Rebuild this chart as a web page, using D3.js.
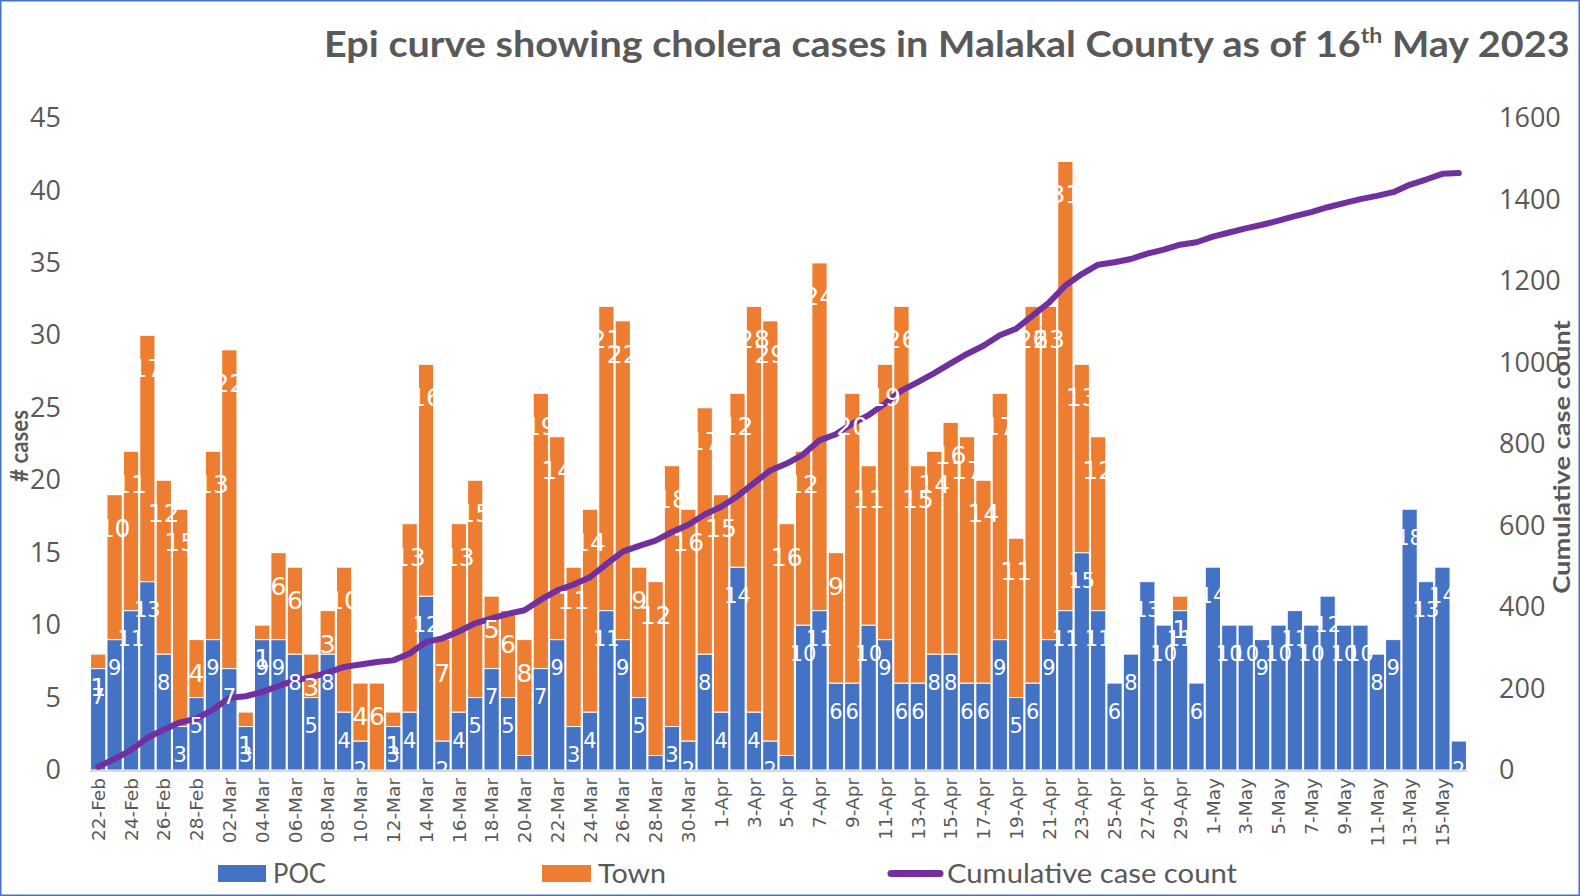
<!DOCTYPE html>
<html><head><meta charset="utf-8">
<script src="https://cdn.jsdelivr.net/npm/d3@7"></script>
<style>body{margin:0;background:#fff}svg{display:block}</style>
</head><body>
<svg id="chart" width="1580" height="896"></svg>
<script>
const dates = ["22-Feb","23-Feb","24-Feb","25-Feb","26-Feb","27-Feb","28-Feb",
"01-Mar","02-Mar","03-Mar","04-Mar","05-Mar","06-Mar","07-Mar","08-Mar","09-Mar","10-Mar","11-Mar","12-Mar","13-Mar","14-Mar","15-Mar","16-Mar","17-Mar","18-Mar","19-Mar","20-Mar","21-Mar","22-Mar","23-Mar","24-Mar","25-Mar","26-Mar","27-Mar","28-Mar","29-Mar","30-Mar","31-Mar",
"1-Apr","2-Apr","3-Apr","4-Apr","5-Apr","6-Apr","7-Apr","8-Apr","9-Apr","10-Apr","11-Apr","12-Apr","13-Apr","14-Apr","15-Apr","16-Apr","17-Apr","18-Apr","19-Apr","20-Apr","21-Apr","22-Apr","23-Apr","24-Apr","25-Apr","26-Apr","27-Apr","28-Apr","29-Apr","30-Apr",
"1-May","2-May","3-May","4-May","5-May","6-May","7-May","8-May","9-May","10-May","11-May","12-May","13-May","14-May","15-May","16-May"];
const poc = [7,9,11,13,8,3,5,9,7,3,9,9,8,5,8,4,2,0,3,4,12,2,4,5,7,5,1,7,9,3,4,11,9,5,1,3,2,8,4,14,4,2,1,10,11,6,6,10,9,6,6,8,8,6,6,9,5,6,9,11,15,11,6,8,13,10,11,6,14,10,10,9,10,11,10,12,10,10,8,9,18,13,14,2];
const town = [1,10,11,17,12,15,4,13,22,1,1,6,6,3,3,10,4,6,1,13,16,7,13,15,5,6,8,19,14,11,14,21,22,9,12,18,16,17,15,12,28,29,16,12,24,9,20,11,19,26,15,14,16,17,14,17,11,26,23,31,13,12,0,0,0,0,1,0,0,0,0,0,0,0,0,0,0,0,0,0,0,0,0,0];
const cumulative = [8,27,49,79,99,117,126,148,177,181,191,206,220,228,239,253,259,265,269,286,314,323,340,360,372,383,392,418,441,455,473,505,536,550,563,584,602,627,646,672,704,735,752,774,809,824,850,871,899,931,952,974,998,1021,1041,1067,1083,1115,1147,1189,1217,1240,1246,1254,1267,1277,1289,1295,1309,1319,1329,1338,1348,1359,1369,1381,1391,1401,1409,1418,1436,1449,1463,1465];
const leftTicks = [0,5,10,15,20,25,30,35,40,45];
const rightTicks = [0,200,400,600,800,1000,1200,1400,1600];
const xTickLabels = dates.filter((d,i)=>i%2===0);
const seriesNames = ["POC","Town","Cumulative case count"];
const titleParts = ["Epi curve showing cholera cases in Malakal County as of 16","th"," May 2023"];

const colors = {POC:"#4472C4", Town:"#ED7D31", line:"#7030A0", text:"#595959"};
const svg = d3.select("#chart");
const L=90, R=1467, T=118, B=770;

function fitWidth(sel, w){
  const bw = sel.node().getBBox().width;
  const x = +sel.attr("data-x"), y = +sel.attr("data-y");
  sel.attr("transform", `translate(${x},${y}) scale(${w/bw},1)`);
}

// border
svg.append("rect").attr("x",0.75).attr("y",0.75).attr("width",1578.5).attr("height",894.5)
  .attr("fill","none").attr("stroke","#4472C4").attr("stroke-width",1.5);

const table = dates.map((d,i)=>({date:d, POC:poc[i], Town:town[i]}));
const stack = d3.stack().keys(["POC","Town"])(table);

const x = d3.scaleBand().domain(dates).range([L,R]).paddingInner(0.07).paddingOuter(0.035);
const yL = d3.scaleLinear().domain([0,45]).range([B,T]);
const yR = d3.scaleLinear().domain([0,1600]).range([B,T]);

// bars
const gBars = svg.append("g");
stack.forEach(s=>{
  gBars.append("g").selectAll("rect").data(s.filter(d=>d[1]-d[0]>0)).join("rect")
    .attr("x",d=>x(d.data.date)).attr("width",x.bandwidth())
    .attr("y",d=>yL(d[1])).attr("height",d=>yL(d[0])-yL(d[1]))
    .attr("fill",colors[s.key]).attr("stroke","#fff").attr("stroke-width",1);
});

// baseline
svg.append("line").attr("x1",L).attr("x2",R).attr("y1",B+1).attr("y2",B+1)
  .attr("stroke","#D9D9D9").attr("stroke-width",2);

// axes
const axL = svg.append("g").attr("transform",`translate(${L},0)`)
  .call(d3.axisLeft(yL).tickValues(leftTicks).tickSize(0).tickPadding(29));
const axR = svg.append("g").attr("transform",`translate(${R},0)`)
  .call(d3.axisRight(yR).tickValues(rightTicks).tickFormat(d3.format("d")).tickSize(0).tickPadding(32));
[axL,axR].forEach(a=>{
  a.select(".domain").remove();
  a.selectAll("text").attr("font-family","Open Sans").attr("font-size",27).attr("fill",colors.text);
});
const axX = svg.append("g").attr("transform",`translate(0,${B})`)
  .call(d3.axisBottom(x).tickValues(xTickLabels).tickSize(0));
axX.select(".domain").remove();
axX.selectAll("text").attr("transform","rotate(-90)").attr("x",-8).attr("y",0).attr("dy","0.36em")
  .attr("text-anchor","end").attr("font-family","DejaVu Sans").attr("font-size",18.5).attr("fill",colors.text);

// line
const line = d3.line().x((d,i)=>x(dates[i])+x.bandwidth()/2).y(d=>yR(d));
svg.append("path").datum(cumulative).attr("d",line).attr("fill","none")
  .attr("stroke",colors.line).attr("stroke-width",6).attr("stroke-linecap","round").attr("stroke-linejoin","round");

// data labels
svg.append("clipPath").attr("id","plotclip").append("rect").attr("x",0).attr("y",0).attr("width",1580).attr("height",B);
const gLab = svg.append("g").attr("clip-path","url(#plotclip)");
stack.forEach(s=>{
  const off = s.key==="POC" ? 28 : 33;
  const fs = s.key==="POC" ? 21 : 25;
  gLab.append("g").selectAll("text").data(s.filter(d=>d[1]-d[0]>0)).join("text")
    .attr("x",d=>x(d.data.date)+x.bandwidth()/2)
    .attr("y",d=>yL(d[1])+off).attr("dy","0.36em")
    .attr("text-anchor","middle").attr("font-family","DejaVu Sans").attr("font-size",fs)
    .attr("fill","#fff").text(d=>d[1]-d[0]);
});

// title
const title = svg.append("text").attr("data-x",324).attr("data-y",57)
  .attr("font-family","Lato").attr("font-weight","bold").attr("font-size",36).attr("fill",colors.text);
title.append("tspan").text(titleParts[0]);
title.append("tspan").attr("font-size",21).attr("dy",-14).text(titleParts[1]);
title.append("tspan").attr("dy",14).text(titleParts[2]);
fitWidth(title,1246);

// axis titles
const yt = svg.append("text").attr("text-anchor","middle").attr("font-family","Lato").attr("font-weight","bold")
  .attr("font-size",24).attr("fill",colors.text).text("# cases");
const yt2 = svg.append("text").attr("text-anchor","middle").attr("font-family","Lato").attr("font-weight","bold")
  .attr("font-size",23).attr("fill",colors.text).text("Cumulative case count");
(function(){
  const w1 = yt.node().getBBox().width; yt.attr("transform",`translate(28,446) rotate(-90) scale(${72/w1},1)`);
  const w2 = yt2.node().getBBox().width; yt2.attr("transform",`translate(1570,457) rotate(-90) scale(${274/w2},1)`);
})();

// legend
const lg = svg.append("g");
lg.append("rect").attr("x",218).attr("y",865).attr("width",48).attr("height",17).attr("fill",colors.POC);
lg.append("rect").attr("x",542).attr("y",865).attr("width",49).attr("height",17).attr("fill",colors.Town);
lg.append("line").attr("x1",891).attr("x2",940).attr("y1",873.5).attr("y2",873.5)
  .attr("stroke",colors.line).attr("stroke-width",7).attr("stroke-linecap","round");
[[seriesNames[0],273,53],[seriesNames[1],598,68],[seriesNames[2],947,291]].forEach(([t,px,w])=>{
  const tx = lg.append("text").attr("data-x",px).attr("data-y",883).attr("font-family","Lato")
    .attr("font-size",26).attr("fill",colors.text).text(t);
  fitWidth(tx,w);
});
</script>
</body></html>
